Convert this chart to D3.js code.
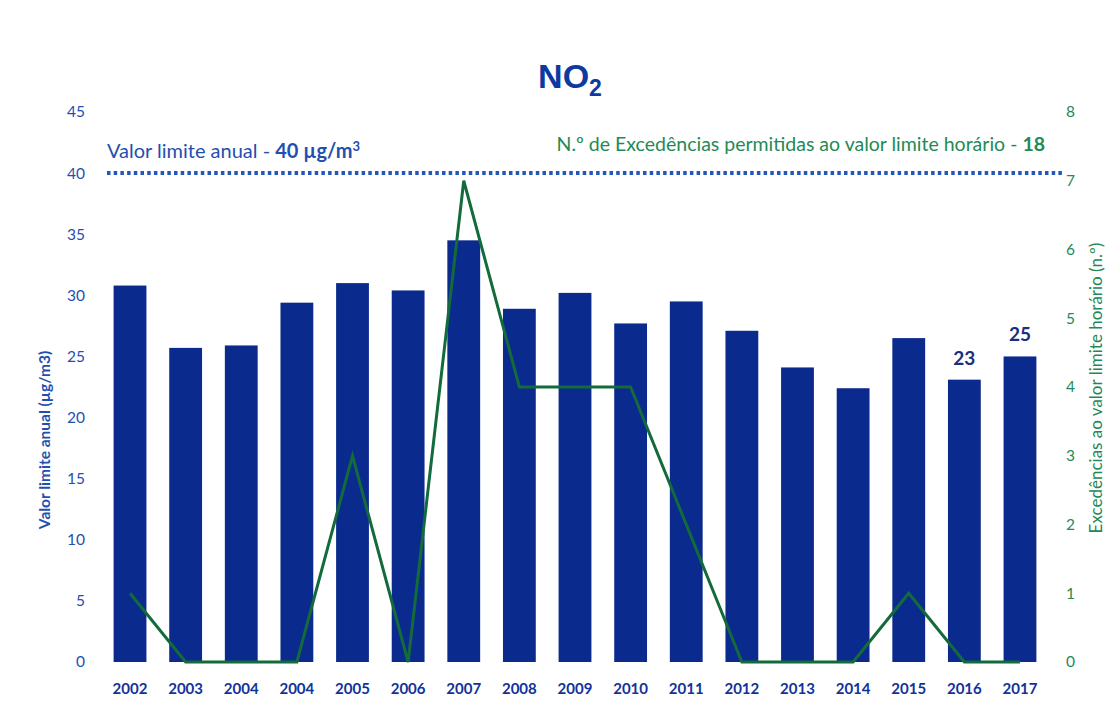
<!DOCTYPE html>
<html>
<head>
<meta charset="utf-8">
<script src="https://cdn.jsdelivr.net/npm/d3@7"></script>
<style>
  html, body { margin: 0; padding: 0; background: #fff; }
  svg { display: block; font-family: Lato, "Open Sans", sans-serif; }
</style>
</head>
<body>
<svg id="chart" width="1118" height="703"></svg>
<script>
// Years as printed on the axis (the 2004 label appears twice)
const years = ["2002","2003","2004","2004","2005","2006","2007","2008","2009","2010","2011","2012","2013","2014","2015","2016","2017"];
// Annual mean NO2 concentration (µg/m3)
const annualMean = [30.8, 25.7, 25.9, 29.4, 31.0, 30.4, 34.5, 28.9, 30.2, 27.7, 29.5, 27.1, 24.1, 22.4, 26.5, 23.1, 25.0];
// Number of exceedances of the hourly limit value
const exceedances = [1, 0, 0, 0, 3, 0, 7, 4, 4, 4, 2, 0, 0, 0, 1, 0, 0];
// Bars that carry a value label
const labelled = { 15: "23", 16: "25" };
const leftTicks = [0, 5, 10, 15, 20, 25, 30, 35, 40, 45];
const rightTicks = [0, 1, 2, 3, 4, 5, 6, 7, 8];
const annualLimit = 40;

const svg = d3.select("#chart");
const navy = "#0b2a8e", blue = "#1f4fb0", green = "#1f8a55", lineGreen = "#136b3b";

const idx = years.map((_, i) => i);
const x = d3.scaleBand().domain(idx).range([102.2, 1047.8]).paddingInner(0.41).paddingOuter(0.205);
const yL = d3.scaleLinear().domain([0, 45]).range([662, 112]);
const yR = d3.scaleLinear().domain([0, 8]).range([662, 112]);

// Title
const title = svg.append("text").attr("x", 570).attr("y", 88).attr("text-anchor", "middle")
  .attr("fill", "#0d3aa0").attr("font-weight", "bold").attr("font-size", 34)
  .style("font-family", "Arial, 'Liberation Sans', sans-serif");
title.append("tspan").text("NO");
title.append("tspan").attr("dy", 8).attr("font-size", 23).text("2");

// Left axis
const axL = svg.append("g").attr("transform", "translate(85,0)")
  .call(d3.axisLeft(yL).tickValues(leftTicks).tickSize(0).tickPadding(0));
axL.select(".domain").remove();
axL.selectAll("text").attr("fill", blue).attr("font-size", 15.5).style("font-family", "Lato, sans-serif");

// Right axis
const axR = svg.append("g").attr("transform", "translate(1066,0)")
  .call(d3.axisRight(yR).tickValues(rightTicks).tickSize(0).tickPadding(0));
axR.select(".domain").remove();
axR.selectAll("text").attr("fill", green).attr("font-size", 15.5).style("font-family", "Lato, sans-serif");

// Axis titles
svg.append("text").attr("transform", "translate(50,440) rotate(-90)").attr("text-anchor", "middle")
  .attr("fill", blue).attr("font-weight", "bold").attr("font-size", 15.5)
  .text("Valor limite anual (µg/m3)");
svg.append("text").attr("transform", "translate(1102,388) rotate(-90)").attr("text-anchor", "middle")
  .attr("fill", green).attr("font-size", 17)
  .text("Excedências ao valor limite horário (n.º)");

// Bars
svg.append("g").selectAll("rect").data(annualMean).join("rect")
  .attr("x", (d, i) => x(i)).attr("width", x.bandwidth())
  .attr("y", d => yL(d)).attr("height", d => yL(0) - yL(d))
  .attr("fill", navy);

// Value labels
svg.append("g").selectAll("text").data(idx.filter(i => labelled[i])).join("text")
  .attr("x", i => x(i) + x.bandwidth() / 2).attr("y", i => yL(annualMean[i]) - 15)
  .attr("text-anchor", "middle").attr("fill", "#1a2f80").attr("font-weight", "bold").attr("font-size", 19)
  .text(i => labelled[i]);

// Exceedance line
const line = d3.line().x((d, i) => x(i) + x.bandwidth() / 2).y(d => yR(d));
svg.append("path").datum(exceedances).attr("d", line)
  .attr("fill", "none").attr("stroke", lineGreen).attr("stroke-width", 3).attr("stroke-linejoin", "miter");

// Annual limit value (dotted)
svg.append("line").attr("x1", 107).attr("x2", 1064).attr("y1", yL(annualLimit)).attr("y2", yL(annualLimit))
  .attr("stroke", "#2358b8").attr("stroke-width", 4).attr("stroke-dasharray", "3.5,3.2");

// Legend notes
const l1 = svg.append("text").attr("x", 107).attr("y", 158).attr("fill", blue).attr("font-size", 20);
l1.append("tspan").text("Valor limite anual - ");
l1.append("tspan").attr("font-weight", "bold").text("40 µg/m");
l1.append("tspan").attr("font-weight", "bold").attr("dy", -7).attr("font-size", 13).text("3");

const l2 = svg.append("text").attr("x", 1045).attr("y", 151).attr("text-anchor", "end").attr("fill", green).attr("font-size", 19.5);
l2.append("tspan").text("N.º de Excedências permitidas ao valor limite horário - ");
l2.append("tspan").attr("font-weight", "bold").text("18");

// Category axis
svg.append("g").selectAll("text").data(idx).join("text")
  .attr("x", i => x(i) + x.bandwidth() / 2).attr("y", 694)
  .attr("text-anchor", "middle").attr("fill", "#12329a").attr("font-weight", "bold").attr("font-size", 15)
  .text(i => years[i]);
</script>
</body>
</html>
